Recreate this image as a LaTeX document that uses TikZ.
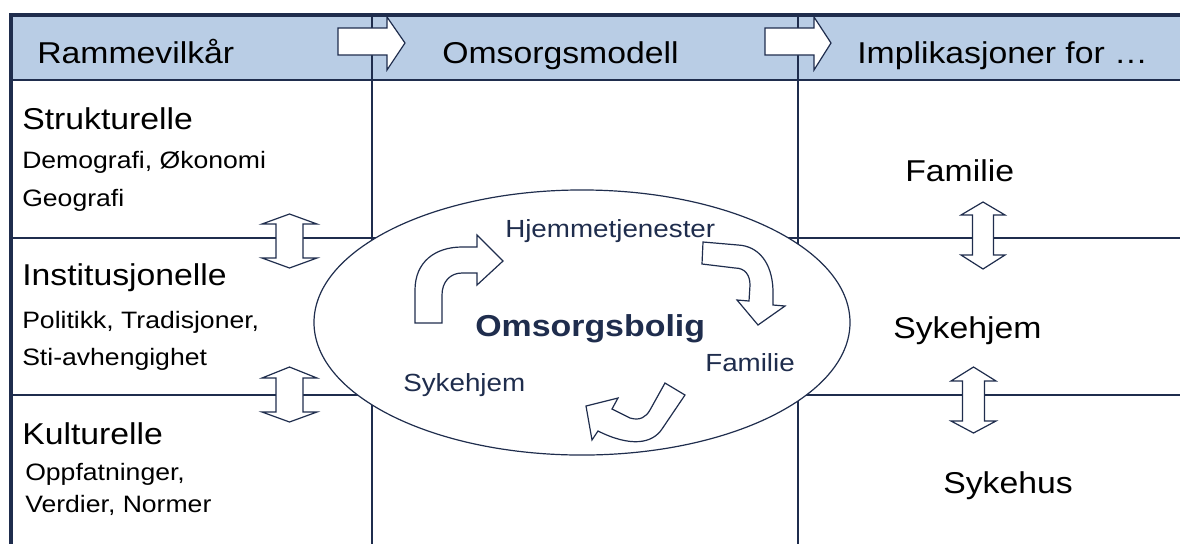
\documentclass[tikz,border=0pt]{standalone}
\usepackage{fontspec}
\setmainfont{Liberation Sans}[FakeStretch=1.12]
\definecolor{navy}{HTML}{1F2D4D}
\definecolor{hdr}{HTML}{B9CDE5}
\newcommand\DblArrow[7]{%
  \draw[shapeline] (#1,#2) -- (#1+#6,#3) -- (#1+#7,#3) -- (#1+#7,#4) -- (#1+#6,#4) -- (#1,#5)
    -- (#1-#6,#4) -- (#1-#7,#4) -- (#1-#7,#3) -- (#1-#6,#3) -- cycle;}
\begin{document}
\begin{tikzpicture}[x=0.75pt,y=-0.75pt,
  gridline/.style={navy, line width=1.6pt},
  frameline/.style={navy, line width=3pt},
  shapeline/.style={draw=navy, fill=white, line width=0.9pt, line join=miter},
  big/.style={font=\fontsize{22.6}{26}\selectfont, inner sep=0pt, anchor=base west},
  small/.style={font=\fontsize{17.8}{20}\selectfont, inner sep=0pt, anchor=base west},
  ell/.style={font=\fontsize{18.6}{22}\selectfont, text=navy, inner sep=0pt, anchor=base west},
]
\useasboundingbox (0,0) rectangle (1180,544);
% header band
\fill[hdr] (11,15) rectangle (1180,80);
% grid
\draw[gridline] (11,238) -- (1180,238);
\draw[gridline] (11,395) -- (1180,395);
\draw[gridline] (372,15) -- (372,544);
\draw[gridline] (798,15) -- (798,544);
% ellipse
\draw[draw=navy, fill=white, line width=0.9pt] (582,322.5) ellipse [x radius=201pt, y radius=99.4pt];
% frame
\draw[navy, line width=2pt] (11,80) -- (1180,80);
\draw[frameline] (9,15) -- (1180,15);
\draw[frameline] (11,13) -- (11,544);
% header arrows
\draw[shapeline] (338,28) -- (387,28) -- (387,17) -- (405,43) -- (387,70) -- (387,55) -- (338,55) -- cycle;
\draw[shapeline] (765,28) -- (814,28) -- (814,17) -- (831,43) -- (814,70) -- (814,55) -- (765,55) -- cycle;
% double arrows
\DblArrow{289.5}{214}{224}{258}{268}{27.5}{13.5}
\DblArrow{289.5}{367}{378}{412}{422}{27.5}{13.5}
\DblArrow{983}{202}{215}{255}{269}{22}{10.5}
\DblArrow{973.5}{367}{381}{421}{433}{22.5}{11}
% curved arrows in ellipse
\draw[shapeline] (415,323) -- (415,290) .. controls (415,262) and (435,247) .. (462,247) -- (477,247)
  -- (477,235) -- (503,261) -- (477,285) -- (477,273) -- (462,273)
  .. controls (450,273) and (442,282) .. (442,295) -- (442,323) -- cycle;
\draw[shapeline] (703,242) -- (738,245) .. controls (758,246) and (772,262) .. (773,290) -- (773,305)
  -- (785,306) -- (758,325) -- (737,300) -- (749,301) -- (750,285)
  .. controls (750,275) and (745,268) .. (735,268) -- (702,264) -- cycle;
\draw[shapeline] (665,383) -- (685,395) -- (662,429) .. controls (652,444) and (630,447) .. (598,431)
  -- (592,440) -- (586,406) -- (618,398) -- (612,409) -- (630,418)
  .. controls (640,421) and (646,417) .. (650,410) -- cycle;
% header texts
\node[big] (h1) at (37,63) {Rammevilkår};
\node[big] (h2) at (442,63) {Omsorgsmodell};
\node[big] (h3) at (857,63) {Implikasjoner for …};
% left column
\node[big] (s1) at (22,129) {Strukturelle};
\node[small] (s2) at (22,168) {Demografi, Økonomi};
\node[small] (s3) at (22,206) {Geografi};
\node[big] (i1) at (22,285) {Institusjonelle};
\node[small] (i2) at (22,328) {Politikk, Tradisjoner,};
\node[small] (i3) at (22,365) {Sti-avhengighet};
\node[big] (k1) at (22,444) {Kulturelle};
\node[small] (k2) at (25,480) {Oppfatninger,};
\node[small] (k3) at (25,512) {Verdier, Normer};
% right column
\node[big] (r1) at (905,181) {Familie};
\node[big] (r2) at (893,338) {Sykehjem};
\node[big] (r3) at (943,493) {Sykehus};
% ellipse labels
\node[ell] (e1) at (505,237) {Hjemmetjenester};
\node[ell, font=\fontsize{22.7}{26}\selectfont\bfseries] (e2) at (475,336) {Omsorgsbolig};
\node[ell] (e3) at (705,371) {Familie};
\node[ell] (e4) at (403,391) {Sykehjem};
\end{tikzpicture}
\end{document}
